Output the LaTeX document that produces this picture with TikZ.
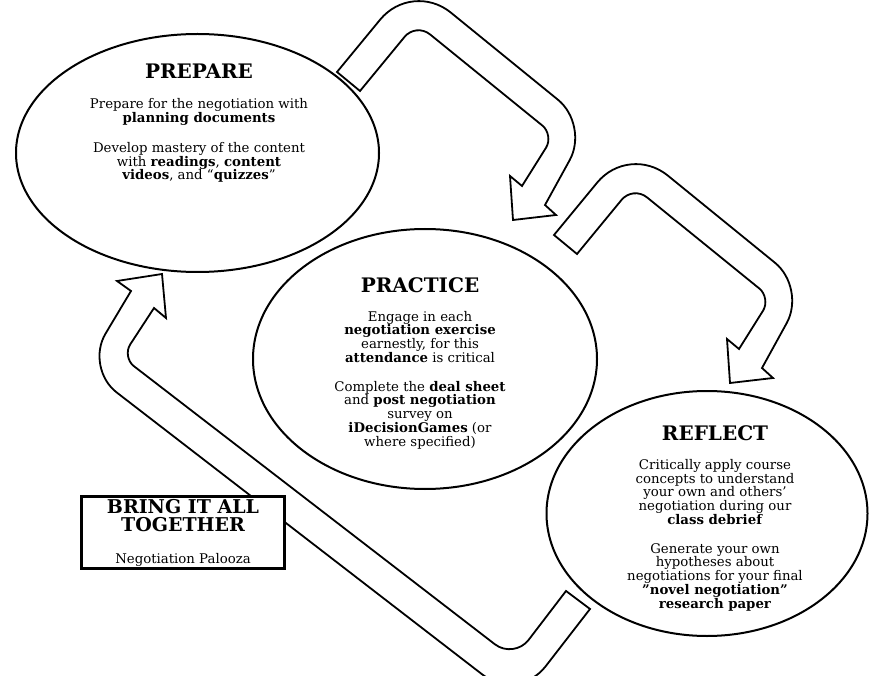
\documentclass[tikz,border=0pt]{standalone}
\usepackage{fontspec}
\setmainfont{DejaVu Serif}
\usetikzlibrary{shapes.geometric,calc}

\newcommand{\rndc}[5]{-- ($(#1)!#4!(#2)$) .. controls ($(#1)!#5!(#2)$) and ($(#1)!#5!(#3)$) .. ($(#1)!#4!(#3)$)}

\tikzset{
  stage/.style={ellipse, draw=black, line width=2pt, fill=white, inner sep=0pt},
  ttl/.style={font=\fontsize{20}{20}\selectfont\bfseries, inner sep=0pt, anchor=base},
  body/.style={font=\fontsize{13.3}{13.7}\selectfont, align=center, inner sep=0pt, anchor=base},
  blockarrow/.style={draw=black, line width=1.8pt, fill=white, line join=miter},
  finalbox/.style={draw=black, line width=3pt, fill=white, inner sep=0pt, minimum width=203pt, minimum height=72pt}
}

% curved block arrow, shifted by (#2,#3)
\newcommand{\mkarrow}[3]{%
  \coordinate (#1t1) at ({554+#2},{235+#3});
  \coordinate (#1o1) at ({629+#2},{144+#3});
  \coordinate (#1o2) at ({806+#2},{288+#3});
  \coordinate (#1n1) at ({762+#2},{368+#3});
  \coordinate (#1b1) at ({773+#2},{378+#3});
  \coordinate (#1tp) at ({730+#2},{383+#3});
  \coordinate (#1b2) at ({727+#2},{339+#3});
  \coordinate (#1n2) at ({739+#2},{349+#3});
  \coordinate (#1i2) at ({771+#2},{298+#3});
  \coordinate (#1i1) at ({633+#2},{186+#3});
  \coordinate (#1t2) at ({577+#2},{254+#3});
  \draw[blockarrow] (#1t1) \rndc{#1o1}{#1t1}{#1o2}{50pt}{22pt} \rndc{#1o2}{#1o1}{#1n1}{40pt}{18pt}
    -- (#1n1) -- (#1b1) -- (#1tp) -- (#1b2) -- (#1n2)
    \rndc{#1i2}{#1n2}{#1i1}{15pt}{7pt} \rndc{#1i1}{#1i2}{#1t2}{18pt}{8pt} -- (#1t2) -- cycle;
}

\begin{document}
\begin{tikzpicture}[x=1pt,y=-1pt]
\useasboundingbox (0,0) rectangle (870,676);
\fill[white] (0,0) rectangle (870,676);
\clip (0,0) rectangle (870,676);

% stages
\node[stage, minimum width=363pt, minimum height=238pt] (prep) at (197.5,153) {};
\node[stage, minimum width=344pt, minimum height=260pt] (prac) at (425,359) {};
\node[stage, minimum width=321pt, minimum height=245pt] (refl) at (707,513.5) {};

% arrows prepare -> practice, practice -> reflect
\mkarrow{A}{-217}{-163}
\mkarrow{B}{0}{0}

% arrow reflect -> prepare
\coordinate (Ct1) at (566,591);
\coordinate (Cib) at (514,659);
\coordinate (Cit) at (122,357);
\coordinate (Cin) at (154,308);
\coordinate (Cb1) at (166,318);
\coordinate (Ctp) at (162,274);
\coordinate (Cb2) at (117,281);
\coordinate (Con) at (131,291);
\coordinate (Cot) at (85,368);
\coordinate (Cob) at (518,702);
\coordinate (Ct2) at (590,609);
\draw[blockarrow] (Ct1) \rndc{Cib}{Ct1}{Cit}{24pt}{11pt} \rndc{Cit}{Cib}{Cin}{15pt}{7pt}
  -- (Cin) -- (Cb1) -- (Ctp) -- (Cb2) -- (Con)
  \rndc{Cot}{Con}{Cob}{40pt}{18pt} \rndc{Cob}{Cot}{Ct2}{45pt}{20pt} -- (Ct2) -- cycle;

% texts (body nodes anchored at the baseline of their last line)
\node[ttl] (prept) at (199,79) {PREPARE};
\node[body] (prepb) at (199,180) {Prepare for the negotiation with\\
\textbf{planning documents}\\[16.3pt]
Develop mastery of the content\\
with \textbf{readings}, \textbf{content}\\
\textbf{videos}, and “\textbf{quizzes}”};

\node[ttl] (pract) at (420,293) {PRACTICE};
\node[body] (pracb) at (420,446) {Engage in each\\
\textbf{negotiation exercise}\\
earnestly, for this\\
\textbf{attendance} is critical\\[15.3pt]
Complete the \textbf{deal sheet}\\
and \textbf{post negotiation}\\
survey on\\
\textbf{iDecisionGames} (or\\
where specified)};

\node[ttl] (reflt) at (715,440) {REFLECT};
\node[body] (reflb) at (715,608) {Critically apply course\\
concepts to understand\\
your own and others’\\
negotiation during our\\
\textbf{class debrief}\\[15.3pt]
Generate your own\\
hypotheses about\\
negotiations for your final\\
\textbf{”novel negotiation”}\\
\textbf{research paper}};

% bring it all together
\node[finalbox] (final) at (183,532.5) {};
\node[font=\fontsize{19}{18}\selectfont\bfseries, align=center, inner sep=0pt, anchor=base] (finalt) at (183,531) {BRING IT ALL\\TOGETHER};
\node[body] (finalb) at (183,563) {Negotiation Palooza};
\end{tikzpicture}
\end{document}
